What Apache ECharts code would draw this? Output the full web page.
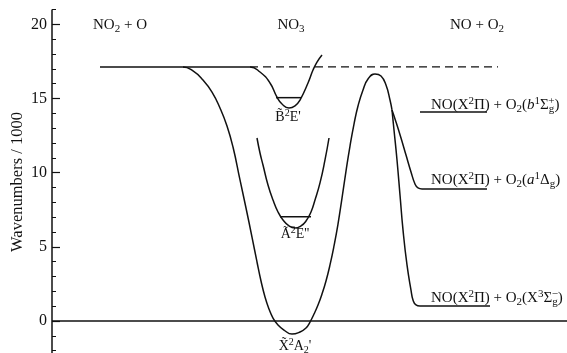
<!DOCTYPE html>
<html>
<head>
<meta charset="utf-8">
<script src="https://cdn.jsdelivr.net/npm/echarts@6/dist/echarts.min.js"></script>
<style>
  html, body { margin: 0; padding: 0; background: #fff; }
  #chart { width: 567px; height: 353px; }
</style>
</head>
<body>
<div id="chart"></div>
<script>
// Reaction coordinate (arbitrary units) and energy (wavenumbers / 1000)
const groundX = [48,131,141,151,160,168,175,181,188,194,200,205,209,213,217,221,226,232,240,248,254,258,262,266,270,274,278,282,286,290,294,298,302,306,311,316,323,329,334,338,340];
const groundY = [17.13,17.13,16.86,16.25,15.44,14.36,13.15,11.73,9.51,7.62,5.66,3.98,2.70,1.62,0.81,0.20,-0.27,-0.61,-0.88,-0.74,-0.47,-0.07,0.47,1.08,1.82,2.70,3.78,5.06,6.54,8.29,10.11,11.80,13.28,14.50,15.58,16.32,16.66,16.52,15.91,14.90,14.23];

const branchAX = [340,344,349,354,359,363,366,370,435];
const branchAY = [14.23,13.42,12.34,11.19,10.05,9.24,8.97,8.90,8.90];

const branchXX = [340,341,342,345,348,351,355,359,361,364,368,438];
const branchXY = [14.23,13.55,12.88,10.86,8.50,6.14,3.78,2.09,1.42,1.08,1.01,1.01];

const branchBX = [368,435];
const branchBY = [14.09,14.09];

const stateBX = [131,198,208,218,225,230,237,243,248,256,261,265,270];
const stateBY = [17.13,17.13,16.79,16.05,15.10,14.63,14.36,14.50,14.90,16.05,16.92,17.46,17.94];
const levelBX = [224,249];
const levelBY = [15.06,15.06];

const stateAX = [205,208,211,216,221,226,231,237,243,249,254,259,263,268,273,277];
const stateAY = [12.34,11.33,10.52,9.17,8.16,7.35,6.81,6.41,6.27,6.41,6.74,7.35,8.16,9.31,10.86,12.34];
const levelAX = [228,259];
const levelAY = [7.03,7.03];

const dissocX = [198,446];
const dissocY = [17.13,17.13];

const yTicks = [0,5,10,15,20];
const yAxisSpan = [-2.5, 21];

const titleNO2O = 'NO{sub|2} + O';
const titleNO3 = 'NO{sub|3}';
const titleNOO2 = 'NO + O{sub|2}';
const labelB = 'B\u0303{sup|2}E\'';
const labelA = '\u00C3{sup|2}E\'\'';
const labelX = 'X\u0303{sup|2}A{sub|2}\'';
const labelProdB = 'NO(X{sup|2}\u03A0) + O{sub|2}({it|b}{sup|1}\u03A3{sub|g}{stk|+})';
const labelProdA = 'NO(X{sup|2}\u03A0) + O{sub|2}({it|a}{sup|1}\u0394{sub|g})';
const labelProdX = 'NO(X{sup|2}\u03A0) + O{sub|2}(X{sup|3}\u03A3{sub|g}{stk|\u2212})';
const yName = 'Wavenumbers / 1000';

const zip = (xs, ys) => xs.map((x, i) => [x, ys[i]]);
const SERIF = '"Liberation Serif", "DejaVu Serif", serif';
const INK = '#111';

function makeRich(size) {
  const s = Math.round(size * 0.72);
  return {
    sub: { fontSize: s, lineHeight: s, verticalAlign: 'bottom', fontFamily: SERIF, fill: INK, color: INK },
    sup: { fontSize: s, lineHeight: s, verticalAlign: 'top', fontFamily: SERIF, fill: INK, color: INK },
    stk: { fontSize: s, lineHeight: s, verticalAlign: 'top', padding: [0, 0, 0, -Math.round(s * 0.5)], fontFamily: SERIF, fill: INK, color: INK },
    it: { fontSize: size, lineHeight: size + 4, fontStyle: 'italic', fontFamily: SERIF, fill: INK, color: INK }
  };
}

function txt(text, x, y, align, size) {
  return {
    type: 'text', x: x, y: y, silent: true,
    style: {
      text: text, fontSize: size, lineHeight: size + 4, fontFamily: SERIF,
      fill: INK, align: align || 'center', verticalAlign: 'middle', rich: makeRich(size)
    }
  };
}

function curve(name, xs, ys, extra) {
  return Object.assign({
    name: name, type: 'line', data: zip(xs, ys), showSymbol: false,
    smooth: 0.5, silent: true,
    lineStyle: { color: INK, width: 1.5 }
  }, extra || {});
}

const chart = echarts.init(document.getElementById('chart'), null, { renderer: 'canvas' });
chart.setOption({
  backgroundColor: '#fff',
  animation: false,
  grid: { left: 52, right: 0, top: -49.75, bottom: -42.15, containLabel: false, outerBoundsMode: 'none' },
  xAxis: { type: 'value', min: 0, max: 515, show: false },
  yAxis: {
    type: 'value', min: -5, max: 25, interval: 5,
    axisLine: { show: false },
    axisTick: { show: true, inside: true, length: 8, lineStyle: { color: INK, width: 1.2 } },
    minorTick: { show: true, splitNumber: 5, length: 4, lineStyle: { color: INK, width: 1 } },
    splitLine: { show: false },
    axisLabel: {
      margin: 5, fontSize: 16, fontFamily: SERIF, color: INK,
      formatter: v => (yTicks.indexOf(v) >= 0 ? String(v) : '')
    }
  },
  series: [
    curve('ground', groundX, groundY, {
      markLine: {
        silent: true, symbol: 'none', animation: false,
        label: { show: false },
        lineStyle: { color: INK, width: 1.5, type: 'solid' },
        data: [
          { yAxis: 0 },
          [{ coord: [0, yAxisSpan[0]] }, { coord: [0, yAxisSpan[1]] }]
        ]
      }
    }),
    curve('branchA', branchAX, branchAY),
    curve('branchX', branchXX, branchXY),
    curve('branchB', branchBX, branchBY, { smooth: false }),
    curve('stateB', stateBX, stateBY),
    curve('levelB', levelBX, levelBY, { smooth: false }),
    curve('stateA', stateAX, stateAY),
    curve('levelA', levelAX, levelAY, { smooth: false }),
    curve('dissociation', dissocX, dissocY, { smooth: false, lineStyle: { color: INK, width: 1.3, type: [8, 5] } })
  ],
  graphic: [
    txt(titleNO2O, 120, 25, 'center', 15),
    txt(titleNO3, 291, 25, 'center', 15),
    txt(titleNOO2, 477, 25, 'center', 15),
    txt(labelB, 288, 117, 'center', 14),
    txt(labelA, 295, 234, 'center', 14),
    txt(labelX, 295, 346, 'center', 14),
    txt(labelProdB, 431, 105, 'left', 15),
    txt(labelProdA, 431, 180, 'left', 15),
    txt(labelProdX, 431, 298, 'left', 15),
    {
      type: 'text', x: 18, y: 182, rotation: Math.PI / 2, silent: true,
      style: { text: yName, fontSize: 16.5, fontFamily: SERIF, fill: INK, align: 'center', verticalAlign: 'middle' }
    }
  ]
});
</script>
</body>
</html>
